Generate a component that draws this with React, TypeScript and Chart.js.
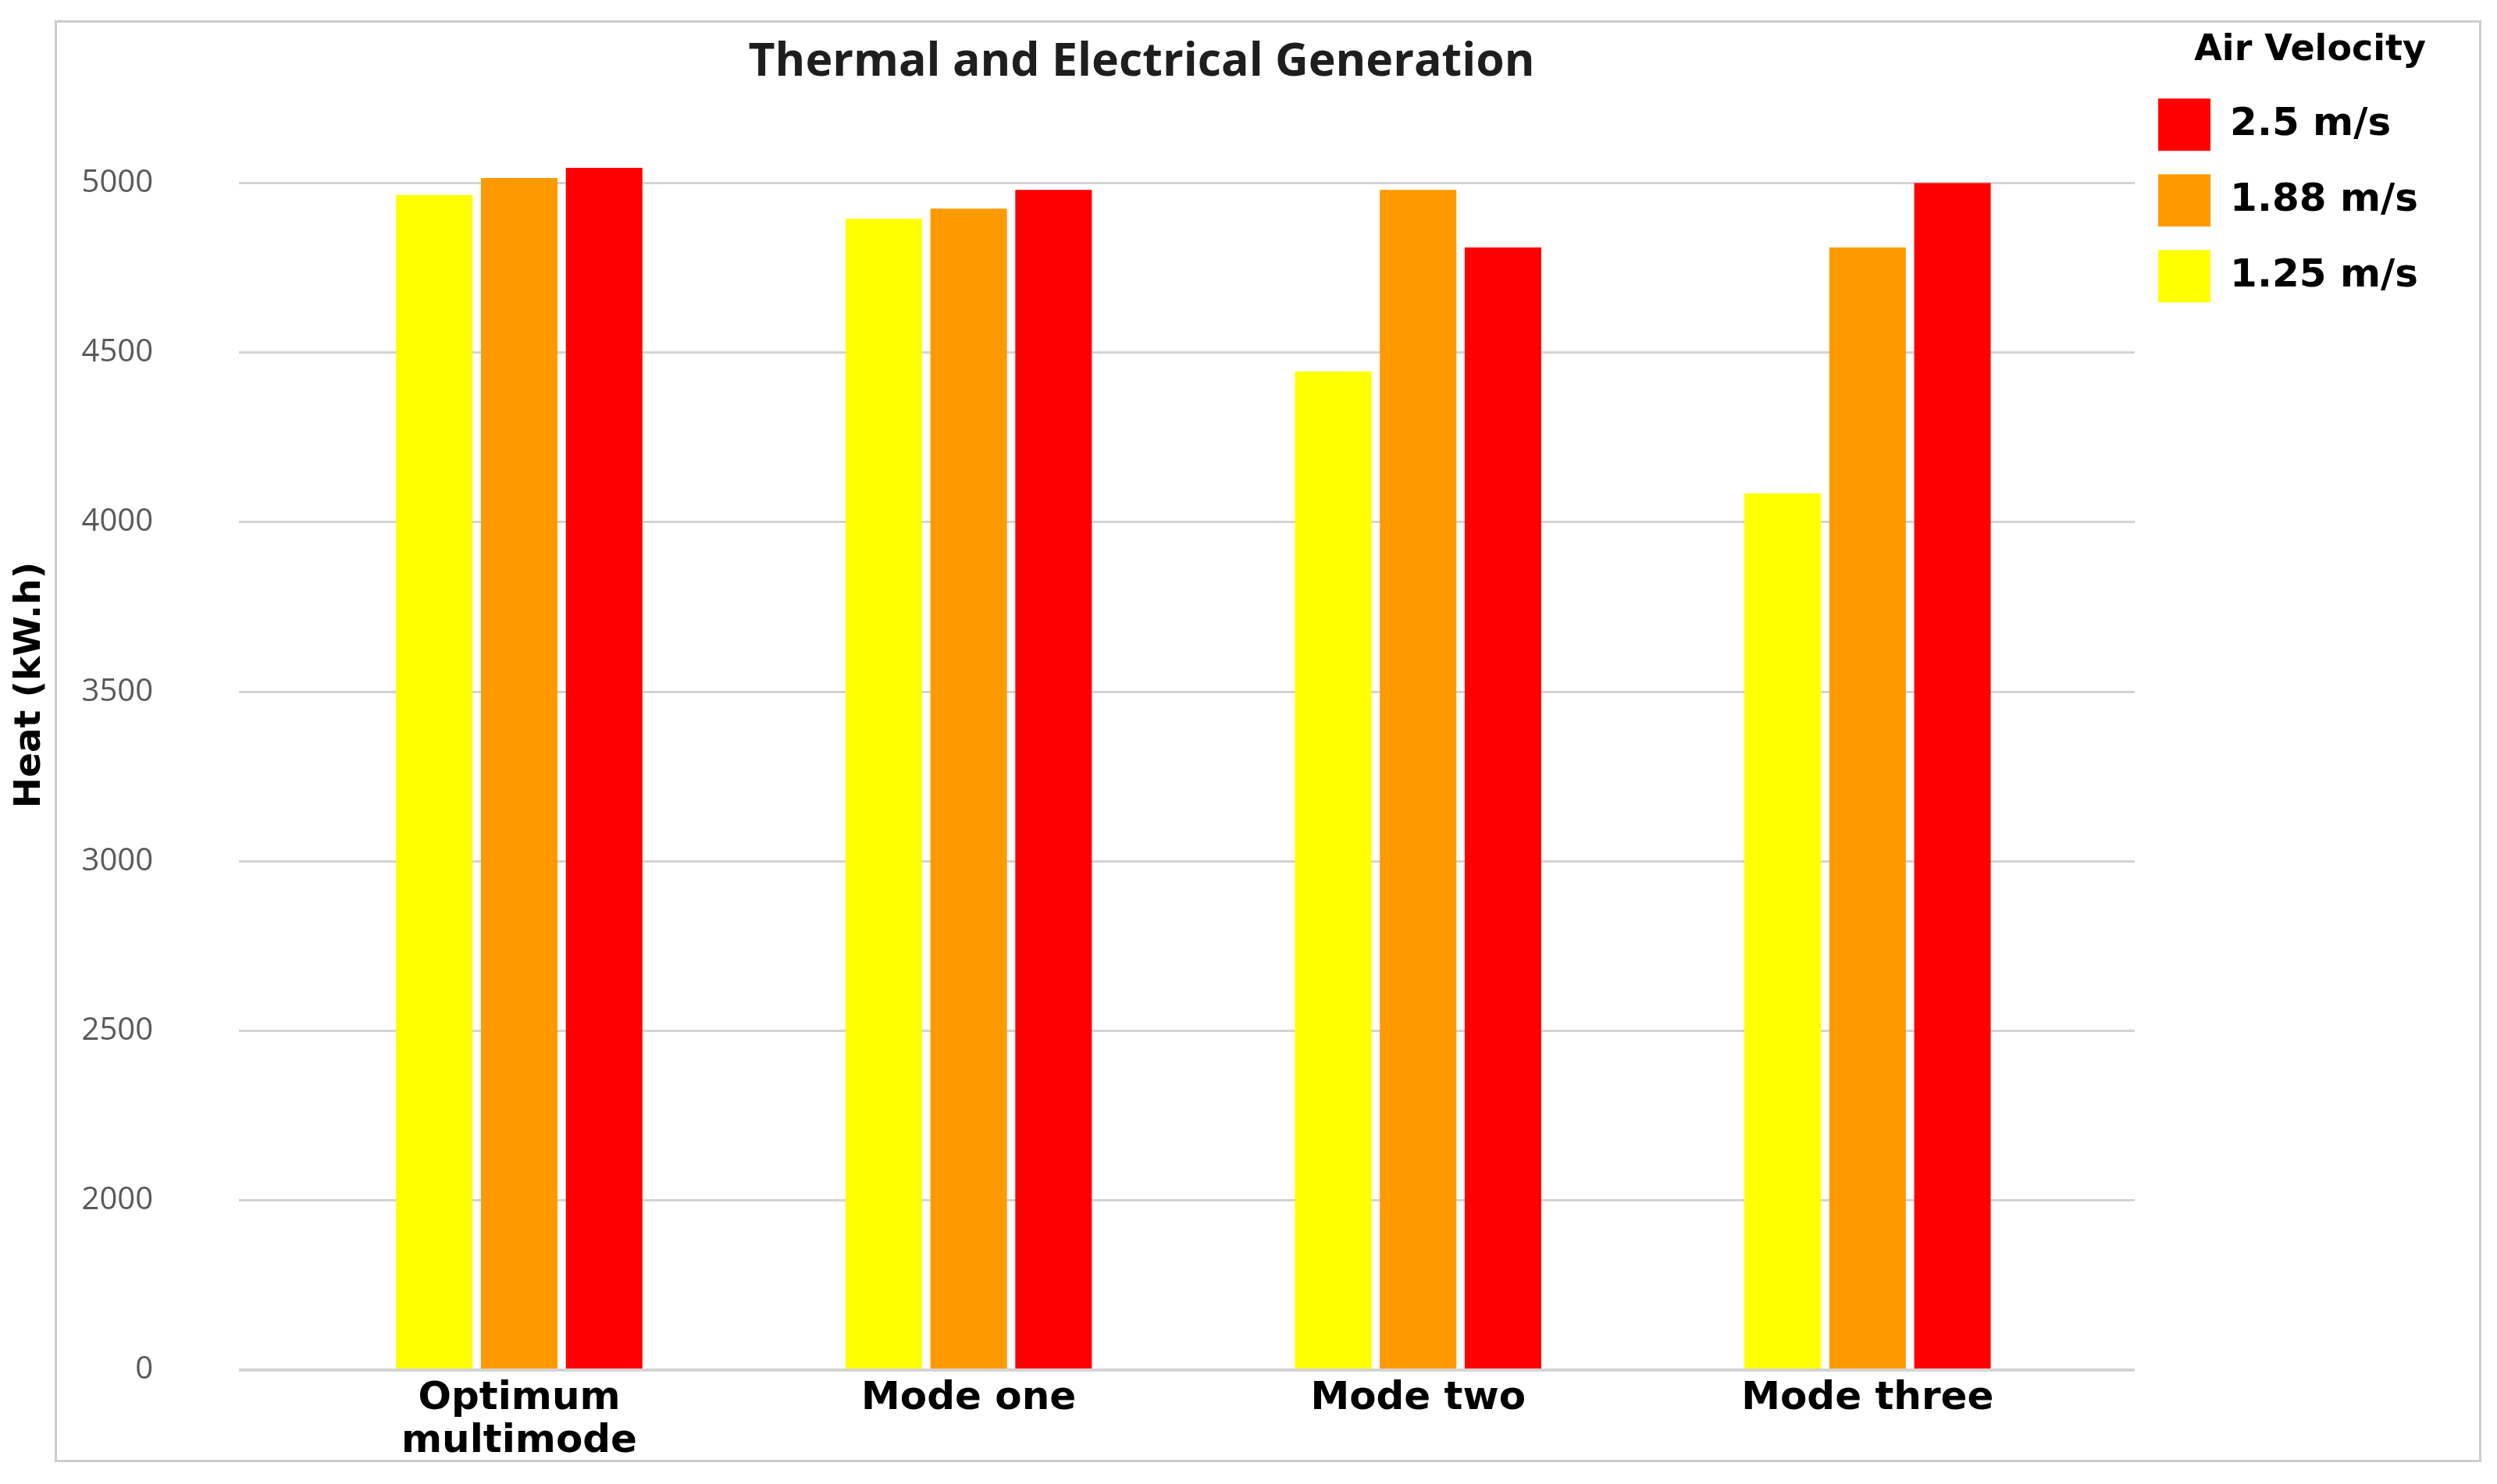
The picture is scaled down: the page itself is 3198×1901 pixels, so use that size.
import React, { useEffect, useRef } from 'react';
import { Chart, registerables } from 'chart.js';

Chart.register(...registerables);

// ---- data ----
const CATEGORIES: (string | string[])[] = [['Optimum', 'multimode'], 'Mode one', 'Mode two', 'Mode three'];
const SERIES_LABELS = ['1.25 m/s', '1.88 m/s', '2.5 m/s'];
const HEAT_125 = [4965, 4895, 4445, 4085];
const HEAT_188 = [5015, 4925, 4980, 4810];
const HEAT_250 = [5045, 4980, 4810, 5000];
const Y_TICK_VALUES = [1500, 2000, 2500, 3000, 3500, 4000, 4500, 5000];
const Y_TICK_LABELS = ['0', '2000', '2500', '3000', '3500', '4000', '4500', '5000'];
const TITLE = 'Thermal and Electrical Generation';
const Y_TITLE = 'Heat (kW.h)';
const LEGEND_TITLE = 'Air Velocity';

// ---- styles ----
const COLORS = ['#FFFF00', '#FF9900', '#FF0000'];
const W = 3198;
const H = 1901;
const Y_MIN = 1500;
const Y_MAX = 5540;
const X_MIN = -0.6237;
const X_MAX = 3.5946;

const framePlugin = {
  id: 'frameAndTitle',
  beforeDraw(chart: any) {
    const ctx = chart.ctx;
    ctx.save();
    ctx.fillStyle = '#ffffff';
    ctx.fillRect(0, 0, chart.width, chart.height);
    ctx.strokeStyle = '#cccccc';
    ctx.lineWidth = 3;
    ctx.strokeRect(71.5, 27.5, 3105, 1844);
    ctx.restore();
  },
  afterDraw(chart: any) {
    const ctx = chart.ctx;
    ctx.save();
    ctx.fillStyle = '#1e1e1e';
    ctx.font = 'bold 59px "Open Sans"';
    ctx.textAlign = 'center';
    ctx.textBaseline = 'middle';
    ctx.fillText(TITLE, 1462, 80);
    ctx.restore();
  },
};

export default function App() {
  const ref = useRef<HTMLCanvasElement | null>(null);

  useEffect(() => {
    document.body.style.margin = '0';
    if (!ref.current) return;
    const series = [HEAT_125, HEAT_188, HEAT_250];
    const chart = new Chart(ref.current, {
      type: 'bar',
      data: {
        datasets: series.map((vals, s) => ({
          label: SERIES_LABELS[s],
          data: vals.map((v, i) => ({ x: i, y: v })),
          backgroundColor: COLORS[s],
          borderWidth: 0,
          base: Y_MIN,
          categoryPercentage: 0.5666,
          barPercentage: 0.9016,
        })),
      },
      options: {
        animation: false,
        responsive: false,
        devicePixelRatio: 1,
        layout: { padding: { left: 0, top: 0, right: 91, bottom: 0 } },
        plugins: {
          tooltip: { enabled: false },
          title: { display: false },
          legend: {
            display: true,
            position: 'right',
            align: 'start',
            reverse: true,
            title: {
              display: true,
              text: LEGEND_TITLE,
              color: '#000000',
              position: 'end',
              font: { family: '"DejaVu Sans"', weight: 'bold', size: 46 },
              padding: { top: 42, bottom: -1 },
            },
            labels: {
              boxWidth: 67,
              boxHeight: 67,
              padding: 30,
              color: '#000000',
              font: { family: '"DejaVu Sans"', weight: 'bold', size: 50 },
            },
          },
        },
        scales: {
          x: {
            type: 'linear',
            position: 'bottom',
            min: X_MIN,
            max: X_MAX,
            offset: false,
            grid: { display: false },
            border: { display: false },
            afterBuildTicks: (scale: any) => {
              scale.ticks = CATEGORIES.map((_, i) => ({ value: i }));
            },
            afterFit: (scale: any) => {
              scale.height = 146;
            },
            ticks: {
              autoSkip: false,
              maxRotation: 0,
              minRotation: 0,
              padding: 2,
              color: '#000000',
              font: { family: '"DejaVu Sans"', weight: 'bold', size: 50, lineHeight: 1.1 },
              callback: (value: any) => CATEGORIES[Math.round(Number(value))] ?? '',
            },
          },
          y: {
            type: 'linear',
            position: 'left',
            min: Y_MIN,
            max: Y_MAX,
            bounds: 'data',
            afterBuildTicks: (scale: any) => {
              scale.ticks = Y_TICK_VALUES.map((v) => ({ value: v }));
            },
            afterFit: (scale: any) => {
              scale.width = 306;
              scale.paddingTop = 0;
              scale.paddingBottom = 0;
            },
            grid: {
              color: '#d3d3d3',
              lineWidth: (c: any) => (c.tick && c.tick.value === Y_MIN ? 4 : 3),
              drawTicks: false,
            },
            border: { display: false },
            ticks: {
              padding: 110,
              color: '#595959',
              font: { family: '"Open Sans"', size: 40 },
              callback: (_v: any, index: number) => Y_TICK_LABELS[index],
            },
            title: {
              display: true,
              text: Y_TITLE,
              color: '#000000',
              font: { family: '"DejaVu Sans"', weight: 'bold', size: 47 },
              padding: { top: 11, bottom: 0 },
            },
          },
        },
      },
      plugins: [framePlugin],
    } as any);
    return () => chart.destroy();
  }, []);

  return (
    <div style={{ width: W, height: H, overflow: 'hidden' }}>
      <canvas ref={ref} width={W} height={H} style={{ display: 'block', width: W, height: H }} />
    </div>
  );
}
